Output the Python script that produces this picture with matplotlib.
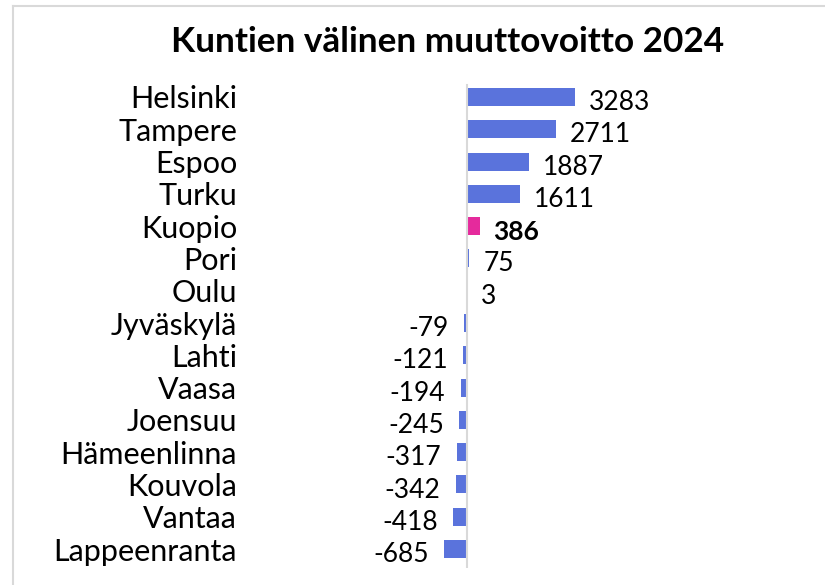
import matplotlib
matplotlib.use("Agg")
import matplotlib.pyplot as plt
from matplotlib.lines import Line2D

kunnat = ['Helsinki', 'Tampere', 'Espoo', 'Turku', 'Kuopio', 'Pori', 'Oulu',
          'Jyväskylä', 'Lahti', 'Vaasa', 'Joensuu', 'Hämeenlinna', 'Kouvola',
          'Vantaa', 'Lappeenranta']
muuttovoitto = [3283, 2711, 1887, 1611, 386, 75, 3,
                -79, -121, -194, -245, -317, -342, -418, -685]
korostus = 'Kuopio'

blue = '#5a73dc'
pink = '#e52a9c'
plt.rcParams['font.family'] = ['Lato', 'DejaVu Sans']

W, H = 825, 585
fig = plt.figure(figsize=(W / 100, H / 100), dpi=100)

# axes placed in pixels so zero sits at x=467
left, right = 302.5, 779.5
top, bottom = 77.6, 568.4
ax = fig.add_axes([left / W, 1 - bottom / H, (right - left) / W, (bottom - top) / H])

y = list(range(len(kunnat)))
colors = [pink if k == korostus else blue for k in kunnat]
ax.barh(y, muuttovoitto, height=0.56, color=colors)
ax.set_xlim(-5000, 9500)
ax.set_ylim(len(kunnat) - 0.4, -0.6)

for i, (k, v) in enumerate(zip(kunnat, muuttovoitto)):
    if v >= 0:
        ax.annotate(str(v), (v, i), xytext=(10, -4), textcoords='offset points',
                    ha='left', va='center', fontsize=19,
                    fontweight='bold' if k == korostus else 'normal')
    else:
        ax.annotate(str(v), (v, i), xytext=(-11, -4), textcoords='offset points',
                    ha='right', va='center', fontsize=19)

ax.set_yticks(y)
ax.set_yticklabels(kunnat, fontsize=22)
ax.tick_params(axis='y', length=0, pad=47)
ax.set_xticks([])
for s in ax.spines.values():
    s.set_visible(False)
ax.axvline(0, color='#d9d9d9', lw=1.5, ymin=0, ymax=0.985)

fig.text(448 / W, 1 - 42 / H, 'Kuntien välinen muuttovoitto 2024',
         ha='center', va='center', fontsize=25.3, fontweight='bold')

# chart frame
fig.add_artist(Line2D([13 / W, 1], [1 - 6 / H, 1 - 6 / H], color='#d9d9d9', lw=1.5))
fig.add_artist(Line2D([13 / W, 13 / W], [0, 1 - 6 / H], color='#d9d9d9', lw=1.5))

fig.savefig('out.png', dpi=100)
